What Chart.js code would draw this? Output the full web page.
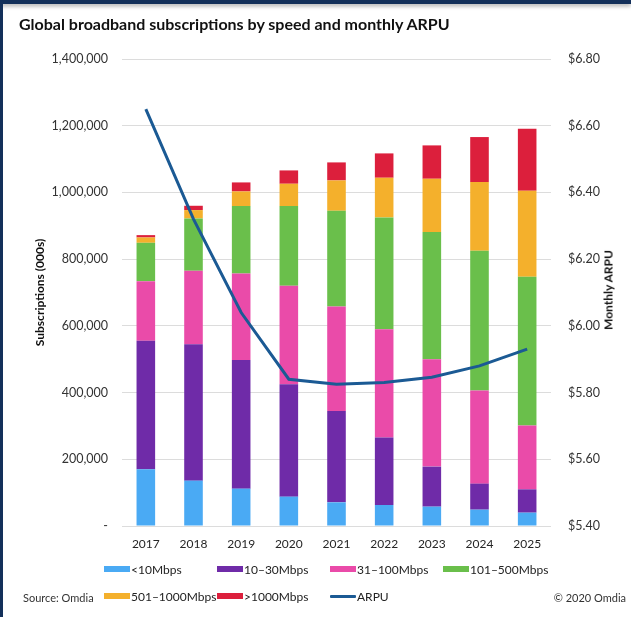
<!DOCTYPE html>
<html>
<head>
<meta charset="utf-8">
<script src="https://cdn.jsdelivr.net/npm/chart.js@4.4.1/dist/chart.umd.min.js"></script>
<style>
  html, body { margin: 0; padding: 0; background: #fff; }
  #frame {
    position: relative; width: 631px; height: 617px; overflow: hidden;
    background: #fff; font-family: Lato, "Open Sans", sans-serif; color: #1a1a1a;
  }
  #topband { position: absolute; left: 0; top: 0; width: 631px; height: 4px;
    background: #13305a; box-shadow: 0 2px 4px rgba(0,0,0,0.35); z-index: 3; }
  #leftband { position: absolute; left: 0; top: 0; width: 3px; height: 617px;
    background: #13305a; z-index: 3; }
  #chart { position: absolute; left: 0; top: 0; }
  #title { position: absolute; left: 19px; top: 14px; font-weight: 700; font-size: 16px;
    color: #111; white-space: nowrap; }
  #y1title { position: absolute; left: 608px; top: 290px; font-weight: 700; font-size: 12px;
    color: #111; white-space: nowrap; transform: translate(-50%, -50%) rotate(-90deg); }
  #legend { position: absolute; left: 104px; top: 562px; display: grid;
    grid-template-columns: 113px 113px 113px 113px; row-gap: 13px; font-size: 12px; color: #222; }
  .item { display: flex; align-items: center; white-space: nowrap; height: 14px; }
  .sw { display: inline-block; width: 26px; height: 6px; margin-right: 1px; }
  .ln { display: inline-block; width: 26px; height: 3px; margin-right: 1px; border-radius: 1px; }
  #source { position: absolute; left: 23px; top: 591px; font-size: 11px; color: #333; }
  #copy { position: absolute; right: 5px; top: 591px; font-size: 11px; color: #333; }
</style>
</head>
<body>
<div id="frame">
  <canvas id="chart" width="631" height="617"></canvas>
  <div id="topband"></div>
  <div id="leftband"></div>
  <div id="title">Global broadband subscriptions by speed and monthly ARPU</div>
  <div id="y1title">Monthly ARPU</div>
  <div id="legend"></div>
  <div id="source">Source: Omdia</div>
  <div id="copy">© 2020 Omdia</div>
</div>
<script>
// Years on the category axis
const years = ['2017', '2018', '2019', '2020', '2021', '2022', '2023', '2024', '2025'];

// Subscriptions (000s) by download speed tier
const below10  = [170000, 136000, 112000,  88000,  71000,  63000,  58000,  49000,  40000];
const mbps10   = [385000, 409000, 386000, 337000, 274000, 202000, 120000,  78000,  70000];
const mbps31   = [179000, 220000, 259000, 295000, 313000, 325000, 322000, 279000, 191000];
const mbps101  = [115000, 157000, 202000, 239000, 287000, 335000, 381000, 419000, 446000];
const mbps501  = [ 16000,  25000,  44000,  67000,  91000, 119000, 160000, 206000, 258000];
const above1000 = [  7000,  13000,  27000,  40000,  54000,  73000, 100000, 135000, 186000];

// Monthly ARPU (USD)
const arpu = [6.65, 6.32, 6.04, 5.84, 5.825, 5.83, 5.846, 5.88, 5.93];

// Axis tick values
const subsTicks = [0, 200000, 400000, 600000, 800000, 1000000, 1200000, 1400000];
const arpuTicks = [5.4, 5.6, 5.8, 6.0, 6.2, 6.4, 6.6, 6.8];

const tiers = [
  { label: '<10Mbps',      data: below10,   color: '#4aaaf4' },
  { label: '10–30Mbps',    data: mbps10,    color: '#6f2ba8' },
  { label: '31–100Mbps',   data: mbps31,    color: '#ea4ba9' },
  { label: '101–500Mbps',  data: mbps101,   color: '#6abf4b' },
  { label: '501–1000Mbps', data: mbps501,   color: '#f4b02c' },
  { label: '>1000Mbps',    data: above1000, color: '#dc1f3c' }
];
const arpuColor = '#1b5a94';

const font = 'Lato, "Open Sans", sans-serif';

const datasets = tiers.map(t => ({
  type: 'bar',
  label: t.label,
  data: t.data,
  backgroundColor: t.color,
  borderWidth: 0,
  stack: 'subs',
  yAxisID: 'y',
  barPercentage: 0.39,
  categoryPercentage: 1.0,
  order: 1
}));
datasets.push({
  type: 'line',
  label: 'ARPU',
  data: arpu,
  yAxisID: 'y1',
  borderColor: arpuColor,
  backgroundColor: arpuColor,
  borderWidth: 3,
  pointRadius: 0,
  tension: 0,
  fill: false,
  order: 0
});

new Chart(document.getElementById('chart'), {
  data: { labels: years, datasets },
  options: {
    responsive: false,
    devicePixelRatio: 1,
    animation: false,
    layout: { padding: { top: 59, bottom: 0, left: 0, right: 0 } },
    plugins: { legend: { display: false }, title: { display: false }, tooltip: { enabled: false } },
    scales: {
      x: {
        stacked: true,
        grid: { display: false, drawTicks: false },
        border: { display: false },
        ticks: { font: { family: font, size: 12 }, color: '#262626', padding: 11 },
        afterFit: s => { s.height = 91; }
      },
      y: {
        stacked: true,
        position: 'left',
        min: 0, max: 1400000,
        afterBuildTicks: s => { s.ticks = subsTicks.map(v => ({ value: v })); },
        grid: { color: '#dcdcdc', lineWidth: 1, drawTicks: false },
        border: { display: false },
        ticks: {
          font: { family: font, size: 12.5 }, color: '#333', padding: 14,
          callback: v => v === 0 ? '-' : Number(v).toLocaleString('en-US')
        },
        title: {
          display: true, text: 'Subscriptions (000s)',
          font: { family: font, size: 12, weight: 'bold' }, color: '#111',
          padding: { top: 33, bottom: 0 }
        },
        afterFit: s => { s.width = 122; }
      },
      y1: {
        position: 'right',
        min: 5.4, max: 6.8,
        afterBuildTicks: s => { s.ticks = arpuTicks.map(v => ({ value: v })); },
        grid: { display: false, drawTicks: false },
        border: { display: false },
        ticks: {
          font: { family: font, size: 12.5 }, color: '#333', padding: 17,
          callback: v => '$' + Number(v).toFixed(2)
        },
        afterFit: s => { s.width = 80; }
      }
    }
  }
});

// Legend built from the same series definitions
const legend = document.getElementById('legend');
tiers.forEach(t => {
  const it = document.createElement('div');
  it.className = 'item';
  it.innerHTML = '<span class="sw" style="background:' + t.color + '"></span>' + t.label;
  legend.appendChild(it);
});
const arpuItem = document.createElement('div');
arpuItem.className = 'item';
arpuItem.innerHTML = '<span class="ln" style="background:' + arpuColor + '"></span>ARPU';
legend.appendChild(arpuItem);
</script>
</body>
</html>
